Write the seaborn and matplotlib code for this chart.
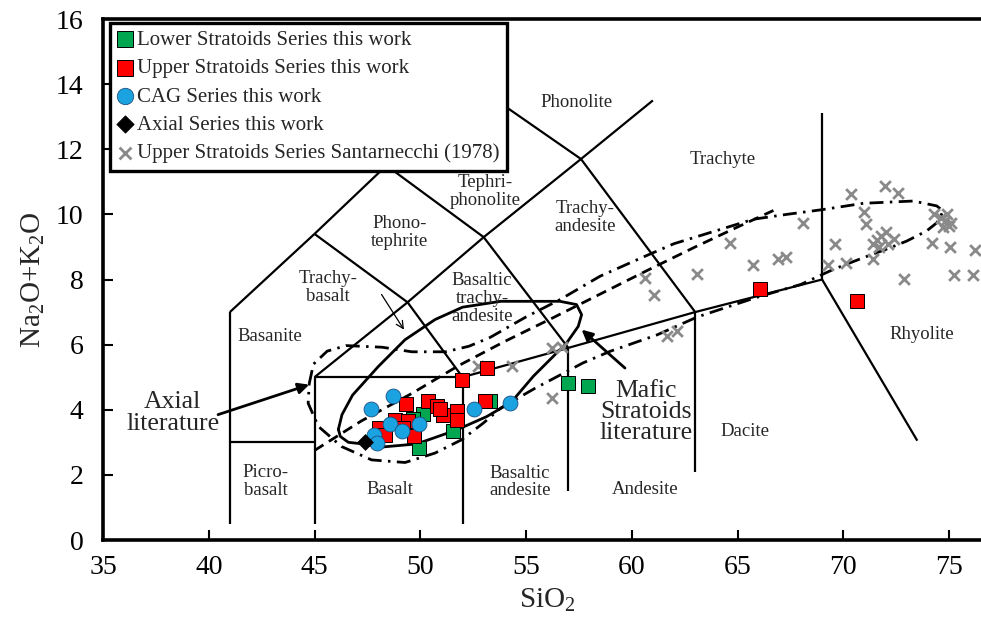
import numpy as np
import pandas as pd
import matplotlib
matplotlib.use("Agg")
import matplotlib.pyplot as plt
import seaborn as sns

# ---------------- data ----------------
lower_x = [50.12, 51.53, 49.96, 53.30, 49.64, 56.97, 57.94]
lower_y = [3.88, 3.36, 2.82, 4.28, 3.71, 4.82, 4.72]

upper_x = [53.14, 51.96, 49.33, 50.35, 50.77, 51.06, 51.76, 51.72, 53.06,
           48.05, 48.33, 48.81, 49.40, 49.20, 49.72, 50.95, 66.06, 70.63]
upper_y = [5.28, 4.90, 4.17, 4.28, 4.13, 3.85, 3.97, 3.69, 4.28,
           3.44, 3.21, 3.69, 3.64, 3.45, 3.18, 4.03, 7.71, 7.33]

cag_x = [48.69, 47.65, 48.57, 49.12, 49.96, 47.81, 47.97, 52.54, 54.24]
cag_y = [4.41, 4.03, 3.57, 3.36, 3.57, 3.23, 2.97, 4.03, 4.20]

axial_x = [47.37]
axial_y = [3.00]

sant_x = [52.75, 54.35, 56.21, 56.25, 56.68, 57.93,
          60.65, 61.05, 61.65, 62.12, 63.09, 64.65, 65.71, 66.93, 67.28, 68.11,
          69.30, 69.60, 70.15, 70.38, 70.99, 71.06, 71.97, 72.60, 71.42,
          71.40, 71.60, 71.80, 72.00, 72.10, 72.40, 71.70,
          72.85, 74.20, 75.05, 76.23, 75.25, 76.15,
          74.30, 74.60, 74.80, 75.00, 74.70, 74.90, 75.10]
sant_y = [5.33, 5.33, 4.36, 5.90, 5.93, 4.72,
          8.06, 7.52, 6.26, 6.41, 8.18, 9.13, 8.46, 8.62, 8.70, 9.73,
          8.46, 9.09, 8.51, 10.62, 10.07, 9.69, 10.86, 10.67, 8.62,
          9.10, 9.20, 9.35, 9.45, 9.10, 9.25, 9.00,
          8.02, 9.12, 9.00, 8.90, 8.15, 8.15,
          10.00, 9.90, 9.80, 9.65, 9.60, 10.00, 9.75]

series_labels = ["Lower Stratoids Series this work",
                 "Upper Stratoids Series this work",
                 "CAG Series this work",
                 "Axial Series this work",
                 "Upper Stratoids Series Santarnecchi (1978)"]

x_ticks = [35, 40, 45, 50, 55, 60, 65, 70, 75]
y_ticks = [0, 2, 4, 6, 8, 10, 12, 14, 16]

# TAS field boundaries (SiO2, Na2O+K2O)
tas_segments = [
    [(41, 0.5), (41, 7)], [(41, 7), (45, 9.4)], [(45, 9.4), (48.4, 11.5)],
    [(48.4, 11.5), (52.5, 14)], [(41, 3), (45, 3)], [(45, 0.5), (45, 5)],
    [(45, 5), (52, 5)], [(52, 0.5), (52, 5)], [(52, 5), (57, 5.9)],
    [(57, 1.5), (57, 5.9)], [(57, 5.9), (63, 7)], [(63, 2.1), (63, 7)],
    [(63, 7), (69, 8)], [(69, 8), (69, 13.1)], [(69, 8), (73.5, 3.05)],
    [(45, 5), (49.4, 7.3)], [(49.4, 7.3), (52, 5)], [(49.4, 7.3), (53, 9.3)],
    [(53, 9.3), (57, 5.9)], [(45, 9.4), (49.4, 7.3)], [(48.4, 11.5), (53, 9.3)],
    [(53, 9.3), (57.6, 11.7)], [(57.6, 11.7), (63, 7)], [(52.5, 14), (57.6, 11.7)],
    [(57.6, 11.7), (61, 13.5)],
]

# literature outlines
mafic_x = [46.13, 46.30, 46.80, 48.02, 49.28, 50.70, 52.00, 53.80, 56.60, 57.39,
           57.63, 57.47, 56.92, 56.29, 55.35, 54.30, 53.14, 51.72, 49.83, 48.10,
           47.30, 46.60, 46.22, 46.13]
mafic_y = [3.40, 3.85, 4.45, 5.33, 6.15, 6.77, 7.15, 7.33, 7.33, 7.23,
           6.92, 6.56, 6.05, 5.64, 5.03, 4.23, 3.79, 3.38, 2.95, 2.85,
           2.95, 3.00, 3.18, 3.40]

axial_lit_x = [44.75, 44.95, 45.60, 46.50, 48.20, 49.60, 51.20, 52.30, 53.30, 55.00,
               56.60, 58.50, 60.40, 62.00, 64.00, 65.75, 67.33, 69.06, 70.95, 73.31,
               74.42, 74.73, 74.42, 73.94, 73.00, 72.20, 70.95, 69.53, 68.00, 65.90,
               63.10, 61.20, 59.00, 57.70, 55.40, 53.80, 53.00, 51.96, 50.70, 49.28,
               47.70, 46.28, 45.18, 44.70, 44.75]
axial_lit_y = [4.80, 5.40, 5.80, 5.97, 5.92, 5.78, 5.78, 5.95, 6.22, 6.85,
               7.38, 8.10, 8.65, 9.10, 9.50, 9.85, 10.00, 10.15, 10.34, 10.41,
               10.26, 10.10, 9.74, 9.49, 9.18, 8.97, 8.67, 8.31, 7.85, 7.45,
               6.85, 6.30, 5.80, 5.44, 4.65, 4.05, 3.60, 3.08, 2.67, 2.38,
               2.46, 2.87, 3.49, 4.20, 4.80]

dashed_x = [45.0, 47.2, 49.6, 51.8, 54.0, 56.2, 58.5, 60.8, 63.0, 64.8, 66.7]
dashed_y = [2.75, 3.65, 4.50, 5.35, 6.10, 6.80, 7.55, 8.30, 9.00, 9.55, 10.12]

field_labels = [
    ("Basanite", 42.9, 6.25), ("Picro-\nbasalt", 42.7, 1.8), ("Basalt", 48.57, 1.54),
    ("Basaltic\nandesite", 54.72, 1.78), ("Andesite", 60.63, 1.54),
    ("Dacite", 65.35, 3.32), ("Rhyolite", 73.72, 6.3), ("Trachyte", 64.3, 11.7),
    ("Trachy-\nandesite", 57.8, 9.9), ("Basaltic\ntrachy-\nandesite", 52.92, 7.42),
    ("Trachy-\nbasalt", 45.64, 7.75), ("Phono-\ntephrite", 49.04, 9.45),
    ("Tephri-\nphonolite", 53.06, 10.7), ("Phonolite", 57.4, 13.44),
]

# ---------------- style ----------------
sns.set_style("ticks")
plt.rcParams["font.family"] = ["Liberation Serif", "DejaVu Serif"]
plt.rcParams["mathtext.fontset"] = "custom"
plt.rcParams["mathtext.rm"] = "Liberation Serif"
plt.rcParams["mathtext.it"] = "Liberation Serif:italic"

W, H = 981, 630
fig = plt.figure(figsize=(W / 100, H / 100), dpi=100)
ax = fig.add_axes([103 / W, 90 / H, 878 / W, 521 / H])

# field boundaries
for seg in tas_segments:
    (x0, y0), (x1, y1) = seg
    ax.plot([x0, x1], [y0, y1], color="black", lw=1.6, zorder=1,
            solid_capstyle="butt")

# literature outlines
ax.plot(axial_lit_x, axial_lit_y, color="black", lw=2.0, zorder=2,
        linestyle=(0, (5.0, 2.3, 0.9, 2.3)))
ax.plot(dashed_x, dashed_y, color="black", lw=2.0, zorder=2,
        linestyle=(0, (3.8, 2.3)))
ax.plot(mafic_x, mafic_y, color="black", lw=2.0, zorder=2,
        solid_joinstyle="round")

# data series
sns.scatterplot(x=sant_x, y=sant_y, marker="x", s=60, color="#8a8a8a",
                linewidth=2.0, label=series_labels[4], ax=ax, zorder=3)
sns.scatterplot(x=lower_x, y=lower_y, marker="s", s=115, color="#00A650",
                edgecolor="black", linewidth=0.7, label=series_labels[0], ax=ax, zorder=4)
sns.scatterplot(x=upper_x, y=upper_y, marker="s", s=115, color="#FF0000",
                edgecolor="black", linewidth=0.7, label=series_labels[1], ax=ax, zorder=5)
sns.scatterplot(x=cag_x, y=cag_y, marker="o", s=115, color="#1AA3E0",
                edgecolor="#1a4f80", linewidth=0.6, label=series_labels[2], ax=ax, zorder=6)
sns.scatterplot(x=axial_x, y=axial_y, marker="D", s=65, color="black",
                edgecolor="black", linewidth=0.5, label=series_labels[3], ax=ax, zorder=6)

# field labels
for txt, fx, fy in field_labels:
    ax.text(fx, fy, txt, ha="center", va="center", fontsize=13.5,
            linespacing=1.05, zorder=2)

# annotations
ax.text(38.3, 3.9, "Axial\nliterature", ha="center", va="center",
        fontsize=18.5, linespacing=1.0, zorder=7)
ax.annotate("", xy=(44.75, 4.77), xytext=(40.44, 3.85),
            arrowprops=dict(arrowstyle="-|>", lw=2.0, color="black",
                            mutation_scale=16, shrinkA=0, shrinkB=0), zorder=7)
ax.text(60.67, 3.94, "Mafic\nStratoids\nliterature", ha="center", va="center",
        fontsize=18.5, linespacing=0.95, zorder=7)
ax.annotate("", xy=(57.63, 6.46), xytext=(59.68, 5.28),
            arrowprops=dict(arrowstyle="-|>", lw=2.0, color="black",
                            mutation_scale=16, shrinkA=0, shrinkB=0), zorder=7)
ax.annotate("", xy=(49.23, 6.46), xytext=(48.17, 7.54),
            arrowprops=dict(arrowstyle="->", lw=0.9, color="black",
                            mutation_scale=13, shrinkA=0, shrinkB=0), zorder=7)

# axes
ax.set_xlim(35, 35 + 878 / 21.15)
ax.set_ylim(0, 16)
ax.set_xticks(x_ticks)
ax.set_yticks(y_ticks)
ax.tick_params(axis="both", direction="in", length=7, width=1.5, labelsize=20,
               colors="black")
ax.tick_params(axis="x", pad=11)
ax.tick_params(axis="y", pad=14)
for side in ["left", "bottom", "top"]:
    ax.spines[side].set_linewidth(2.6)
    ax.spines[side].set_color("black")
ax.spines["right"].set_visible(False)

ax.set_xlabel(r"SiO$_{\mathregular{2}}$", fontsize=21)
ax.set_ylabel(r"Na$_{\mathregular{2}}$O+K$_{\mathregular{2}}$O", fontsize=21)
ax.xaxis.set_label_coords(0.506, -0.115)
ax.xaxis.label.set_va("center")
ax.yaxis.set_label_coords(-70 / 878, 0.5)
ax.yaxis.label.set_va("center")

# legend in reference order
handles, labels = ax.get_legend_handles_labels()
order = [labels.index(l) for l in series_labels]
leg = ax.legend([handles[i] for i in order], [labels[i] for i in order],
                loc="upper left", bbox_to_anchor=(7 / 878, 1 - 4 / 521),
                borderaxespad=0, fontsize=15, frameon=True, fancybox=False,
                framealpha=1, edgecolor="black", handlelength=0.7,
                handletextpad=0.25, labelspacing=0.42, borderpad=0.35,
                markerscale=1.1)
leg.get_frame().set_linewidth(2.4)
leg.set_zorder(10)

fig.savefig("out.png", dpi=100)
